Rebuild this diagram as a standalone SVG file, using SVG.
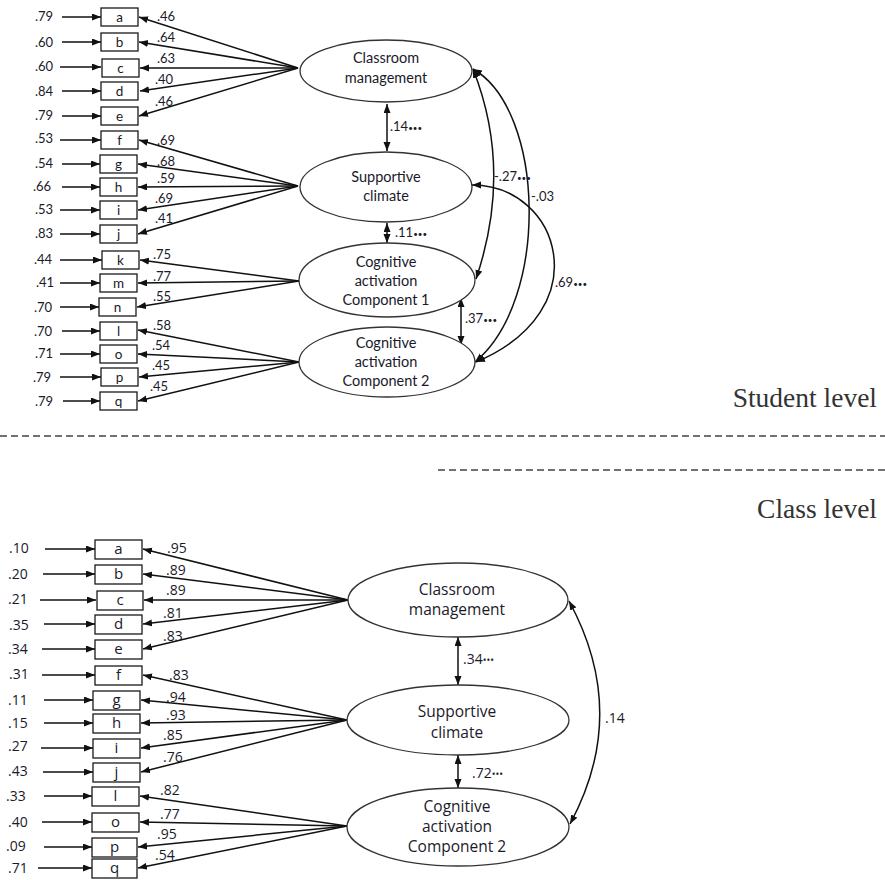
<svg xmlns="http://www.w3.org/2000/svg" width="885" height="880" viewBox="0 0 885 880">
<style>
.bg{fill:#fff}
.box{fill:#fff;stroke:#1a1a1a;stroke-width:1.3}
.ell{fill:#fff;stroke:#333;stroke-width:1.3}
.ln{stroke:#111;stroke-width:1.5;fill:none}
.t1{font-family:Lato,"Liberation Sans",sans-serif;font-size:13px;fill:#1a1a2a}
.e1{font-family:Lato,"Liberation Sans",sans-serif;font-size:14.5px;fill:#1a1a2a;text-anchor:middle}
.b1{font-family:Lato,"Liberation Sans",sans-serif;font-size:13.5px;fill:#1a1a2a;text-anchor:middle}
.t2{font-family:"Open Sans","DejaVu Sans",sans-serif;font-size:14px;fill:#1a1a2a}
.e2{font-family:"Open Sans","DejaVu Sans",sans-serif;font-size:15.5px;fill:#1a1a2a;text-anchor:middle}
.b2{font-family:"Open Sans","DejaVu Sans",sans-serif;font-size:15px;fill:#1a1a2a;text-anchor:middle}
.lvl{font-family:"Liberation Serif",serif;font-size:27.5px;fill:#333;text-anchor:end}
.dash{stroke:#444;stroke-width:1.3;stroke-dasharray:7 4;fill:none}
.dots{font-size:8px}
.dots2{font-size:10px}
</style>
<defs>
<marker id="ah" markerUnits="userSpaceOnUse" markerWidth="10" markerHeight="8" refX="9" refY="3.5" orient="auto-start-reverse">
<path d="M0,0 L9,3.5 L0,7 z" fill="#111"/>
</marker>
</defs>
<rect class="bg" x="0" y="0" width="885" height="880"/>

<g id="connectors">
<!-- top error arrows -->
<g marker-end="url(#ah)" class="ln">
<line x1="62" y1="17" x2="101" y2="17"/>
<line x1="62" y1="42" x2="101" y2="42"/>
<line x1="60" y1="67" x2="101" y2="67"/>
<line x1="62" y1="91" x2="101" y2="91"/>
<line x1="62" y1="116" x2="101" y2="116"/>
<line x1="60" y1="140" x2="101" y2="140"/>
<line x1="62" y1="164" x2="100" y2="164"/>
<line x1="62" y1="187" x2="100" y2="187"/>
<line x1="60" y1="210" x2="100" y2="210"/>
<line x1="60" y1="234" x2="100" y2="234"/>
<line x1="60" y1="260" x2="102" y2="260"/>
<line x1="60" y1="283" x2="100" y2="283"/>
<line x1="60" y1="307" x2="99" y2="307"/>
<line x1="62" y1="331" x2="100" y2="331"/>
<line x1="60" y1="354" x2="100" y2="354"/>
<line x1="60" y1="377" x2="101" y2="377"/>
<line x1="63" y1="401" x2="100" y2="401"/>
</g>
<!-- top loadings -->
<g marker-end="url(#ah)" class="ln">
<line x1="298" y1="68" x2="139" y2="17"/>
<line x1="298" y1="68" x2="139" y2="42"/>
<line x1="298" y1="68" x2="140" y2="68"/>
<line x1="298" y1="68" x2="140" y2="91"/>
<line x1="298" y1="68" x2="139" y2="116"/>
<line x1="298" y1="186" x2="139" y2="140"/>
<line x1="298" y1="186" x2="138" y2="164"/>
<line x1="298" y1="186" x2="138" y2="187"/>
<line x1="298" y1="186" x2="138" y2="210"/>
<line x1="298" y1="186" x2="138" y2="234"/>
<line x1="299" y1="281" x2="140" y2="260"/>
<line x1="299" y1="281" x2="138" y2="283"/>
<line x1="299" y1="281" x2="137" y2="307"/>
<line x1="299" y1="362" x2="138" y2="330"/>
<line x1="299" y1="362" x2="138" y2="354"/>
<line x1="299" y1="362" x2="139" y2="377"/>
<line x1="299" y1="362" x2="138" y2="401"/>
</g>
<!-- top correlations -->
<g marker-start="url(#ah)" marker-end="url(#ah)" class="ln">
<line x1="387" y1="104" x2="387" y2="151"/>
<line x1="387" y1="223" x2="387" y2="243"/>
<line x1="461" y1="298" x2="461" y2="345"/>
<path d="M473 69 Q513 170 476 279"/>
<path d="M473 69 C545 110 550 300 475 362"/>
<path d="M472 185 C560 185 600 310 476 362"/>
</g>
<!-- bottom error arrows -->
<g marker-end="url(#ah)" class="ln">
<line x1="45" y1="549" x2="95" y2="549"/>
<line x1="43" y1="574" x2="95" y2="574"/>
<line x1="40" y1="600" x2="96" y2="600"/>
<line x1="44" y1="624" x2="95" y2="624"/>
<line x1="42" y1="649" x2="95" y2="649"/>
<line x1="42" y1="675" x2="95" y2="675"/>
<line x1="44" y1="700" x2="93" y2="700"/>
<line x1="44" y1="723" x2="93" y2="723"/>
<line x1="41" y1="748" x2="93" y2="748"/>
<line x1="43" y1="772" x2="93" y2="772"/>
<line x1="44" y1="796" x2="92" y2="796"/>
<line x1="42" y1="822" x2="92" y2="822"/>
<line x1="44" y1="847" x2="92" y2="847"/>
<line x1="38" y1="868" x2="92" y2="868"/>
</g>
<!-- bottom loadings -->
<g marker-end="url(#ah)" class="ln">
<line x1="348" y1="600" x2="143" y2="549"/>
<line x1="348" y1="600" x2="143" y2="574"/>
<line x1="348" y1="600" x2="144" y2="600"/>
<line x1="348" y1="600" x2="143" y2="624"/>
<line x1="348" y1="600" x2="143" y2="649"/>
<line x1="347" y1="720" x2="143" y2="675"/>
<line x1="347" y1="720" x2="141" y2="700"/>
<line x1="347" y1="720" x2="141" y2="723"/>
<line x1="347" y1="720" x2="141" y2="748"/>
<line x1="347" y1="720" x2="141" y2="772"/>
<line x1="347" y1="826" x2="140" y2="796"/>
<line x1="347" y1="826" x2="140" y2="822"/>
<line x1="347" y1="826" x2="138" y2="847"/>
<line x1="347" y1="826" x2="138" y2="868"/>
</g>
<g marker-start="url(#ah)" marker-end="url(#ah)" class="ln">
<line x1="458" y1="637" x2="458" y2="685"/>
<line x1="458" y1="755" x2="458" y2="788"/>
<path d="M569 601 Q630 713 570 824"/>
</g>
</g>

<g id="top-ellipses">
<g id="t-cm"><ellipse class="ell" cx="386" cy="71" rx="86" ry="31"/><text class="e1" x="386" y="63">Classroom</text><text class="e1" x="386" y="83">management</text></g>
<g id="t-sc"><ellipse class="ell" cx="386" cy="187" rx="86" ry="35"/><text class="e1" x="386" y="182">Supportive</text><text class="e1" x="386" y="201">climate</text></g>
<g id="t-ca1"><ellipse class="ell" cx="387" cy="280" rx="88" ry="37"/><text class="e1" x="386" y="267">Cognitive</text><text class="e1" x="386" y="286">activation</text><text class="e1" x="386" y="305">Component 1</text></g>
<g id="t-ca2"><ellipse class="ell" cx="387" cy="362" rx="88" ry="35"/><text class="e1" x="386" y="348">Cognitive</text><text class="e1" x="386" y="367">activation</text><text class="e1" x="386" y="386">Component 2</text></g>
</g>

<g id="top-boxes">
<g id="t-a"><rect class="box" x="101" y="8" width="37" height="18"/><text class="b1" x="119.5" y="22">a</text></g>
<g id="t-b"><rect class="box" x="101" y="33" width="37" height="18"/><text class="b1" x="119.5" y="47">b</text></g>
<g id="t-c"><rect class="box" x="102" y="59" width="37" height="18"/><text class="b1" x="120.5" y="73">c</text></g>
<g id="t-d"><rect class="box" x="101" y="82" width="37" height="18"/><text class="b1" x="119.5" y="96">d</text></g>
<g id="t-e"><rect class="box" x="101" y="107" width="37" height="18"/><text class="b1" x="119.5" y="121">e</text></g>
<g id="t-f"><rect class="box" x="101" y="131" width="37" height="18"/><text class="b1" x="119.5" y="145">f</text></g>
<g id="t-g"><rect class="box" x="100" y="155" width="37" height="18"/><text class="b1" x="118.5" y="169">g</text></g>
<g id="t-h"><rect class="box" x="100" y="178" width="37" height="18"/><text class="b1" x="118.5" y="192">h</text></g>
<g id="t-i"><rect class="box" x="100" y="201" width="37" height="18"/><text class="b1" x="118.5" y="215">i</text></g>
<g id="t-j"><rect class="box" x="100" y="225" width="37" height="18"/><text class="b1" x="118.5" y="239">j</text></g>
<g id="t-k"><rect class="box" x="102" y="251" width="37" height="18"/><text class="b1" x="120.5" y="265">k</text></g>
<g id="t-m"><rect class="box" x="100" y="274" width="37" height="18"/><text class="b1" x="118.5" y="288">m</text></g>
<g id="t-n"><rect class="box" x="99" y="298" width="37" height="18"/><text class="b1" x="117.5" y="312">n</text></g>
<g id="t-l"><rect class="box" x="100" y="322" width="37" height="18"/><text class="b1" x="118.5" y="336">l</text></g>
<g id="t-o"><rect class="box" x="100" y="345" width="37" height="18"/><text class="b1" x="118.5" y="359">o</text></g>
<g id="t-p"><rect class="box" x="101" y="368" width="37" height="18"/><text class="b1" x="119.5" y="382">p</text></g>
<g id="t-q"><rect class="box" x="100" y="392" width="37" height="18"/><text class="b1" x="118.5" y="406">q</text></g>
</g>

<g id="top-labels">
<text class="t1" x="35" y="21">.79</text>
<text class="t1" x="35" y="47">.60</text>
<text class="t1" x="35" y="71">.60</text>
<text class="t1" x="35" y="96">.84</text>
<text class="t1" x="35" y="120">.79</text>
<text class="t1" x="35" y="143">.53</text>
<text class="t1" x="35" y="168">.54</text>
<text class="t1" x="33" y="191">.66</text>
<text class="t1" x="35" y="214">.53</text>
<text class="t1" x="35" y="238">.83</text>
<text class="t1" x="34" y="264">.44</text>
<text class="t1" x="36" y="287">.41</text>
<text class="t1" x="34" y="312">.70</text>
<text class="t1" x="34" y="336">.70</text>
<text class="t1" x="35" y="358">.71</text>
<text class="t1" x="33" y="382">.79</text>
<text class="t1" x="35" y="406">.79</text>
<text class="t1" x="157" y="21">.46</text>
<text class="t1" x="157" y="42">.64</text>
<text class="t1" x="157" y="63">.63</text>
<text class="t1" x="155" y="84">.40</text>
<text class="t1" x="155" y="106">.46</text>
<text class="t1" x="157" y="145">.69</text>
<text class="t1" x="157" y="166">.68</text>
<text class="t1" x="157" y="183">.59</text>
<text class="t1" x="155" y="203">.69</text>
<text class="t1" x="155" y="223">.41</text>
<text class="t1" x="153" y="259">.75</text>
<text class="t1" x="153" y="281">.77</text>
<text class="t1" x="153" y="301">.55</text>
<text class="t1" x="153" y="330">.58</text>
<text class="t1" x="152" y="350">.54</text>
<text class="t1" x="152" y="370">.45</text>
<text class="t1" x="150" y="391">.45</text>
<text class="t1" x="390" y="131">.14<tspan class="dots">•••</tspan></text>
<text class="t1" x="395" y="237">.11<tspan class="dots">•••</tspan></text>
<text class="t1" x="465" y="323">.37<tspan class="dots">•••</tspan></text>
<text class="t1" x="494" y="181">-.27<tspan class="dots">•••</tspan></text>
<text class="t1" x="531" y="201">-.03</text>
<text class="t1" x="555" y="287">.69<tspan class="dots">•••</tspan></text>
</g>

<g id="levels">
<text class="lvl" x="877" y="407">Student level</text>
<line class="dash" x1="0" y1="436" x2="885" y2="436"/>
<line class="dash" x1="438" y1="470" x2="885" y2="470"/>
<text class="lvl" x="877" y="518">Class level</text>
</g>

<g id="bottom-ellipses">
<g id="b-cm"><ellipse class="ell" cx="458" cy="600" rx="110" ry="37"/><text class="e2" x="457" y="595">Classroom</text><text class="e2" x="457" y="615">management</text></g>
<g id="b-sc"><ellipse class="ell" cx="458" cy="720" rx="111" ry="35"/><text class="e2" x="457" y="717">Supportive</text><text class="e2" x="457" y="738">climate</text></g>
<g id="b-ca2"><ellipse class="ell" cx="458" cy="827" rx="111" ry="39"/><text class="e2" x="457" y="812">Cognitive</text><text class="e2" x="457" y="832">activation</text><text class="e2" x="457" y="852">Component 2</text></g>
</g>

<g id="bottom-boxes">
<g id="b-a"><rect class="box" x="95" y="540" width="47" height="19"/><text class="b2" x="118.5" y="554">a</text></g>
<g id="b-b"><rect class="box" x="95" y="565" width="47" height="19"/><text class="b2" x="118.5" y="579">b</text></g>
<g id="b-c"><rect class="box" x="97" y="591" width="46" height="19"/><text class="b2" x="120" y="605">c</text></g>
<g id="b-d"><rect class="box" x="95" y="615" width="47" height="19"/><text class="b2" x="118.5" y="629">d</text></g>
<g id="b-e"><rect class="box" x="95" y="640" width="47" height="19"/><text class="b2" x="118.5" y="654">e</text></g>
<g id="b-f"><rect class="box" x="95" y="666" width="47" height="19"/><text class="b2" x="118.5" y="680">f</text></g>
<g id="b-g"><rect class="box" x="93" y="691" width="47" height="19"/><text class="b2" x="116.5" y="705">g</text></g>
<g id="b-h"><rect class="box" x="93" y="714" width="47" height="19"/><text class="b2" x="116.5" y="728">h</text></g>
<g id="b-i"><rect class="box" x="93" y="739" width="47" height="19"/><text class="b2" x="116.5" y="753">i</text></g>
<g id="b-j"><rect class="box" x="93" y="763" width="47" height="19"/><text class="b2" x="116.5" y="777">j</text></g>
<g id="b-l"><rect class="box" x="92" y="787" width="47" height="19"/><text class="b2" x="115.5" y="801">l</text></g>
<g id="b-o"><rect class="box" x="92" y="813" width="47" height="19"/><text class="b2" x="115.5" y="827">o</text></g>
<g id="b-p"><rect class="box" x="92" y="838" width="45" height="19"/><text class="b2" x="114.5" y="852">p</text></g>
<g id="b-q"><rect class="box" x="92" y="859" width="45" height="19"/><text class="b2" x="114.5" y="873">q</text></g>
</g>

<g id="bottom-labels">
<text class="t2" x="9" y="553">.10</text>
<text class="t2" x="8" y="579">.20</text>
<text class="t2" x="8" y="604">.21</text>
<text class="t2" x="9" y="630">.35</text>
<text class="t2" x="8" y="654">.34</text>
<text class="t2" x="9" y="679">.31</text>
<text class="t2" x="8" y="705">.11</text>
<text class="t2" x="8" y="728">.15</text>
<text class="t2" x="8" y="751">.27</text>
<text class="t2" x="8" y="776">.43</text>
<text class="t2" x="6" y="801">.33</text>
<text class="t2" x="8" y="827">.40</text>
<text class="t2" x="6" y="851">.09</text>
<text class="t2" x="8" y="873">.71</text>
<text class="t2" x="167" y="553">.95</text>
<text class="t2" x="166" y="575">.89</text>
<text class="t2" x="166" y="595">.89</text>
<text class="t2" x="163" y="618">.81</text>
<text class="t2" x="163" y="641">.83</text>
<text class="t2" x="169" y="680">.83</text>
<text class="t2" x="166" y="702">.94</text>
<text class="t2" x="166" y="720">.93</text>
<text class="t2" x="163" y="740">.85</text>
<text class="t2" x="163" y="762">.76</text>
<text class="t2" x="160" y="795">.82</text>
<text class="t2" x="160" y="819">.77</text>
<text class="t2" x="157" y="839">.95</text>
<text class="t2" x="155" y="860">.54</text>
<text class="t2" x="463" y="664">.34<tspan class="dots2">•••</tspan></text>
<text class="t2" x="472" y="778">.72<tspan class="dots2">•••</tspan></text>
<text class="t2" x="605" y="723">.14</text>
</g>
</svg>
